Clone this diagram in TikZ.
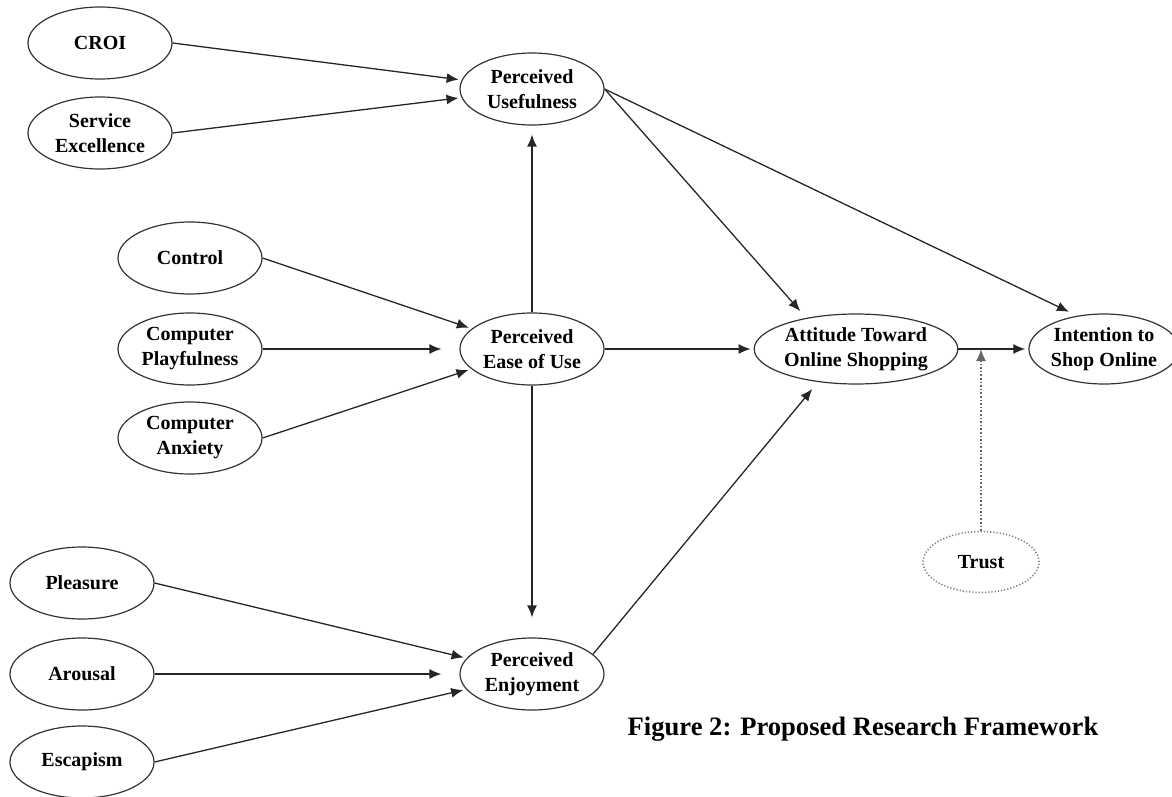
\documentclass[tikz,border=0pt]{standalone}
\usepackage{fontspec}
\setmainfont{Liberation Serif}
\usetikzlibrary{positioning,calc,arrows.meta,shapes.geometric}
\tikzset{oval/.style={draw=black!80,ellipse,line width=0.6pt,minimum width=72pt,minimum height=36pt,inner sep=0pt,align=center,font=\bfseries\fontsize{10}{12.5}\selectfont}  }
\tikzset{dotoval/.style={oval,draw=black!50,densely dotted,line width=0.8pt,minimum width=58pt,minimum height=30.5pt}  }
\tikzset{>={Latex[length=6pt,width=5pt]}}

\begin{document}
\begin{tikzpicture}[x=0.5pt,y=-0.5pt,line width=0.65pt,draw=black!85]
	\useasboundingbox (0,0) rectangle (1172,797);
		\node[oval] (croi) at (100,43) {CROI};
		\node[oval] (se) at (100,133) {Service\\Excellence};
		\node[oval] (pu) at (532,89) {Perceived\\Usefulness};

		\node[oval] (ctrl) at (190,258) {Control};
		\node[oval] (cp) at (190,349) {Computer\\Playfulness};
		\node[oval] (ca) at (190,438) {Computer\\Anxiety};
		\node[oval] (peou) at (532,349) {Perceived\\Ease of Use};

		\node[oval,minimum width=87pt,minimum height=35pt] (att) at (856,349) {Attitude Toward\\Online Shopping};
		\node[oval,minimum width=68pt,minimum height=35pt] (int) at (1104,349) {Intention to\\Shop Online};
		\node[dotoval] (trust) at (981,562) {Trust};

		\node[oval] (pl) at (82,583) {Pleasure};
		\node[oval] (ar) at (82,674) {Arousal};
		\node[oval] (esc) at (82,762) {Escapism};
		\node[oval] (pe) at (532,674) {Perceived\\Enjoyment};

		\node[font=\bfseries\fontsize{13.3}{16}\selectfont] (cap) at (863,729) {Figure 2: Proposed Research Framework};

			\path[->,shorten >=1.5pt]
				  (croi.east) edge (pu)
				  (se.east) edge (pu)
				  (ctrl.east) edge (peou)
				  (ca.east) edge (peou)
				  (pl.east) edge (pe)
				  (esc.east) edge (pe)
				  (peou) edge (att)
				  (att) edge (int)
				;
			\path[->,shorten >=4.5pt]
				  (pu.east) edge (att.148) edge (int.129)
				  (pe.18) edge (att.221)
				  (peou) edge (pu)
				;
			\path[->,shorten >=9pt] (cp.east) edge (peou) (ar.east) edge (pe);
			\draw[->,shorten >=10pt] (peou) -- (pe);

		\coordinate (tj) at (trust |- att);
			\draw[->,densely dotted,draw=black!60,line width=0.8pt] (trust) -- (tj);
	\end{tikzpicture}
\end{document}
